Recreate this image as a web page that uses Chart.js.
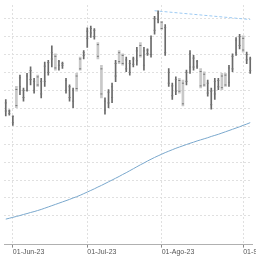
<!DOCTYPE html>
<html>
<head>
<meta charset="utf-8">
<script src="https://cdn.jsdelivr.net/npm/chart.js@4.4.0/dist/chart.umd.min.js"></script>
<style>
html, body { margin: 0; padding: 0; background: #fff; }
#wrap { position: relative; width: 256px; height: 256px; overflow: hidden; background: #fff; }
#chart { position: absolute; left: -1px; top: 0; }
</style>
</head>
<body>
<div id="wrap"><canvas id="chart" width="258" height="256"></canvas></div>
<script>
// trading days (B3 calendar, Corpus Christi 08-Jun closed)
var days = [
    '30-Mai-23', '31-Mai-23',
    '01-Jun-23', '02-Jun-23', '05-Jun-23', '06-Jun-23', '07-Jun-23', '09-Jun-23', '12-Jun-23', '13-Jun-23',
    '14-Jun-23', '15-Jun-23', '16-Jun-23', '19-Jun-23', '20-Jun-23', '21-Jun-23', '22-Jun-23', '23-Jun-23',
    '26-Jun-23', '27-Jun-23', '28-Jun-23', '29-Jun-23', '30-Jun-23',
    '03-Jul-23', '04-Jul-23', '05-Jul-23', '06-Jul-23', '07-Jul-23', '10-Jul-23', '11-Jul-23', '12-Jul-23',
    '13-Jul-23', '14-Jul-23', '17-Jul-23', '18-Jul-23', '19-Jul-23', '20-Jul-23', '21-Jul-23', '24-Jul-23',
    '25-Jul-23', '26-Jul-23', '27-Jul-23', '28-Jul-23', '31-Jul-23',
    '01-Ago-23', '02-Ago-23', '03-Ago-23', '04-Ago-23', '07-Ago-23', '08-Ago-23', '09-Ago-23', '10-Ago-23',
    '11-Ago-23', '14-Ago-23', '15-Ago-23', '16-Ago-23', '17-Ago-23', '18-Ago-23', '21-Ago-23', '22-Ago-23',
    '23-Ago-23', '24-Ago-23', '25-Ago-23', '28-Ago-23', '29-Ago-23', '30-Ago-23', '31-Ago-23',
    '01-Set-23', '04-Set-23', '05-Set-23'
];

var open = [17.30, 16.85, 16.55, 17.15, 18.70, 18.00, 18.80, 19.10, 18.50, 18.30,
    18.50, 19.35, 19.55, 20.10, 19.25, 19.60, 19.50, 18.55, 18.20, 18.00,
    18.10, 19.20, 20.10, 21.30, 21.45, 21.35, 19.90, 17.80, 17.40, 17.90,
    18.20, 19.50, 19.60, 19.50, 19.70, 19.50, 19.75, 20.20, 19.95, 20.20,
    20.25, 20.90, 22.00, 22.30, 21.45, 21.50, 19.00, 18.25, 18.60, 17.95,
    17.25, 19.00, 20.05, 19.80, 19.60, 18.25, 18.30, 18.40, 17.95, 18.50,
    18.55, 18.15, 18.30, 19.25, 19.90, 20.80, 21.00, 20.25, 20.00, 19.75];

var high = [17.49, 16.91, 16.58, 18.22, 18.85, 18.13, 18.95, 19.31, 18.67, 18.85,
    18.67, 19.58, 19.67, 20.49, 20.04, 19.67, 19.58, 18.67, 18.31, 18.13,
    18.95, 19.85, 20.22, 21.49, 21.58, 21.45, 20.67, 19.40, 17.58, 18.04,
    18.40, 19.67, 20.22, 20.04, 19.85, 19.67, 19.85, 20.40, 20.67, 20.40,
    20.31, 21.04, 22.13, 22.44, 21.85, 21.67, 19.22, 18.40, 18.76, 18.67,
    18.58, 19.13, 20.22, 19.95, 19.67, 19.22, 19.04, 18.58, 18.13, 18.67,
    18.67, 18.95, 18.95, 19.40, 20.04, 20.95, 21.13, 21.04, 20.13, 19.85];

var low = [16.58, 16.62, 16.04, 17.04, 17.76, 17.40, 17.95, 18.31, 17.85, 18.22,
    17.58, 18.22, 18.85, 19.31, 19.13, 19.13, 19.22, 17.85, 17.40, 17.04,
    17.95, 19.13, 19.76, 20.40, 20.95, 20.85, 19.76, 17.58, 16.67, 17.04,
    17.31, 18.49, 19.49, 19.40, 19.04, 18.85, 19.31, 19.40, 19.85, 19.13,
    19.95, 19.85, 21.13, 21.76, 21.40, 19.95, 18.22, 17.49, 17.76, 17.85,
    17.13, 18.31, 18.95, 19.13, 19.22, 18.13, 18.22, 17.67, 16.95, 17.49,
    18.04, 18.04, 18.22, 18.22, 19.04, 19.95, 20.31, 20.13, 19.49, 18.95];

var close = [16.85, 16.70, 16.20, 18.05, 18.20, 17.60, 18.00, 18.60, 18.00, 18.75,
    17.80, 18.50, 19.00, 19.75, 19.90, 19.40, 19.40, 18.00, 17.60, 17.40,
    18.80, 19.75, 19.95, 20.90, 21.20, 21.00, 20.55, 19.20, 16.90, 17.30,
    17.60, 18.80, 20.10, 19.95, 19.20, 19.00, 19.45, 19.65, 20.50, 19.40,
    20.05, 20.00, 21.35, 21.95, 21.80, 20.10, 18.40, 17.70, 17.95, 18.55,
    18.40, 18.50, 19.30, 19.30, 19.35, 19.05, 18.90, 17.85, 17.20, 17.80,
    18.20, 18.80, 18.85, 18.45, 19.20, 20.10, 20.50, 20.90, 19.70, 19.10];

var movingAvg = [10.82, 10.87, 10.92, 10.97, 11.02, 11.08, 11.13, 11.19, 11.24, 11.30,
    11.36, 11.43, 11.50, 11.57, 11.64, 11.71, 11.78, 11.85, 11.92, 12.00,
    12.07, 12.15, 12.24, 12.33, 12.42, 12.51, 12.61, 12.70, 12.80, 12.90,
    13.00, 13.10, 13.20, 13.31, 13.41, 13.52, 13.63, 13.74, 13.85, 13.95,
    14.06, 14.16, 14.26, 14.35, 14.44, 14.53, 14.61, 14.69, 14.77, 14.84,
    14.91, 14.98, 15.05, 15.11, 15.18, 15.24, 15.30, 15.36, 15.43, 15.49,
    15.55, 15.62, 15.69, 15.76, 15.83, 15.90, 15.97, 16.05, 16.12, 16.20];

// resistance line drawn from the 28-Jul high
var trendDays = ['28-Jul-23', '05-Set-23'];
var trendValues = [22.44, 21.95];

var trend = days.map(function(d) {
    var k = trendDays.indexOf(d);
    return k >= 0 ? trendValues[k] : null;
});
var upBars = days.map(function(d, i) { return close[i] >= open[i] ? [low[i], high[i]] : null; });
var downBars = days.map(function(d, i) { return close[i] < open[i] ? [low[i], high[i]] : null; });

function monthStart(i) {
    return i > 0 && days[i].slice(3) !== days[i - 1].slice(3);
}

new Chart(document.getElementById('chart'), {
    type: 'bar',
    data: {
        labels: days,
        datasets: [
            { type: 'line', data: movingAvg, borderColor: '#7aa8cd', borderWidth: 1, pointRadius: 0, tension: 0, order: 5 },
            { type: 'line', data: trend, borderColor: '#9ccaf3', borderWidth: 1, borderDash: [3, 2], pointRadius: 0, spanGaps: true, order: 4 },
            { data: upBars, backgroundColor: '#c8c8c8', barThickness: 2, grouped: false, order: 3 },
            { data: downBars, backgroundColor: '#6a6a6a', barThickness: 1, grouped: false, order: 2 },
            { type: 'line', data: open, showLine: false, pointStyle: 'line', pointRadius: 1, borderColor: '#777', pointBorderWidth: 1, order: 1 },
            { type: 'line', data: close, showLine: false, pointStyle: 'line', pointRadius: 1, borderColor: '#777', pointBorderWidth: 1, order: 1 }
        ]
    },
    options: {
        responsive: false,
        animation: false,
        devicePixelRatio: 1,
        layout: { padding: 0 },
        plugins: { legend: { display: false }, tooltip: { enabled: false } },
        scales: {
            x: {
                offset: true,
                grid: {
                    offset: false,
                    drawTicks: true,
                    tickLength: 3,
                    color: function(ctx) { return monthStart(ctx.index) ? '#e0e0e0' : 'rgba(0,0,0,0)'; },
                    tickColor: function(ctx) { return monthStart(ctx.index) ? '#888' : 'rgba(0,0,0,0)'; }
                },
                border: { display: true, color: '#b0b0b0', width: 1, dash: [2, 2] },
                ticks: {
                    autoSkip: false,
                    maxRotation: 0,
                    align: 'start',
                    padding: 0,
                    color: '#555',
                    font: { family: 'Liberation Sans', size: 7 },
                    callback: function(v, i) { return monthStart(i) ? '01-' + days[i].slice(3) : ''; }
                }
            },
            y: {
                position: 'right',
                min: 9.4,
                max: 22.76,
                grid: { color: '#e0e0e0', drawTicks: false },
                border: { display: false, dash: [2, 2] },
                ticks: { display: false, stepSize: 1 },
                afterBuildTicks: function(axis) {
                    axis.ticks = axis.ticks.filter(function(t) { return Math.abs(t.value - Math.round(t.value)) < 1e-6; });
                }
            }
        }
    }
});
</script>
</body>
</html>
